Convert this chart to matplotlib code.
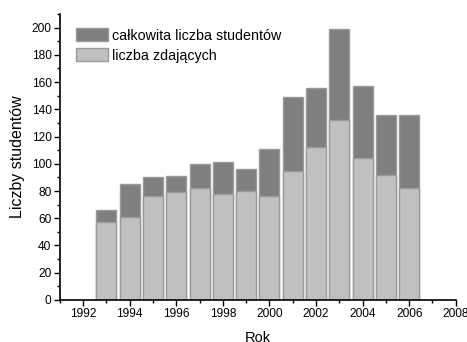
import numpy as np
import matplotlib.pyplot as plt
from matplotlib.ticker import MultipleLocator

plt.rcParams['font.family'] = ['Liberation Sans', 'DejaVu Sans']

# liczba studentów w kolejnych latach
lata = [1993, 1994, 1995, 1996, 1997, 1998, 1999, 2000, 2001, 2002, 2003, 2004, 2005, 2006]
wszyscy = [66, 85, 90, 91, 100, 101, 96, 111, 149, 156, 199, 157, 136, 136]
zdajacy = [57, 61, 76, 79, 82, 78, 80, 76, 95, 112, 132, 104, 92, 82]

fig = plt.figure(figsize=(4.67, 3.42), dpi=100)
ax = fig.add_axes([0.128, 0.123, 0.848, 0.836])

ax.bar(lata, wszyscy, width=0.86, color='#7f7f7f', edgecolor='#9a9a9a',
       linewidth=1.0, label='całkowita liczba studentów')
ax.bar(lata, zdajacy, width=0.86, color='#c0c0c0', edgecolor='#9a9a9a',
       linewidth=1.0, label='liczba zdających')

ax.set_xlim(1991, 2008)
ax.set_ylim(0, 210)
ax.xaxis.set_minor_locator(MultipleLocator(1))
ax.yaxis.set_major_locator(MultipleLocator(20))
ax.yaxis.set_minor_locator(MultipleLocator(10))
ax.set_xticks(range(1992, 2009, 2))
ax.tick_params(which='major', direction='out', length=4, width=1, labelsize=8.6, pad=2)
ax.tick_params(which='minor', direction='out', length=2, width=1)

for s in ['top', 'right']:
    ax.spines[s].set_visible(False)
for s in ['left', 'bottom']:
    ax.spines[s].set_linewidth(1.2)

ax.set_xlabel('Rok', fontsize=10.5, labelpad=8)
ax.set_ylabel('Liczby studentów', fontsize=11.5, labelpad=5)

ax.legend(loc='upper left', bbox_to_anchor=(0.04, 0.95), frameon=False,
          fontsize=10.3, handlelength=2.25, handleheight=1.0, labelspacing=0.4,
          handletextpad=0.3, borderaxespad=0, borderpad=0)

fig.savefig('out.png', dpi=100)
